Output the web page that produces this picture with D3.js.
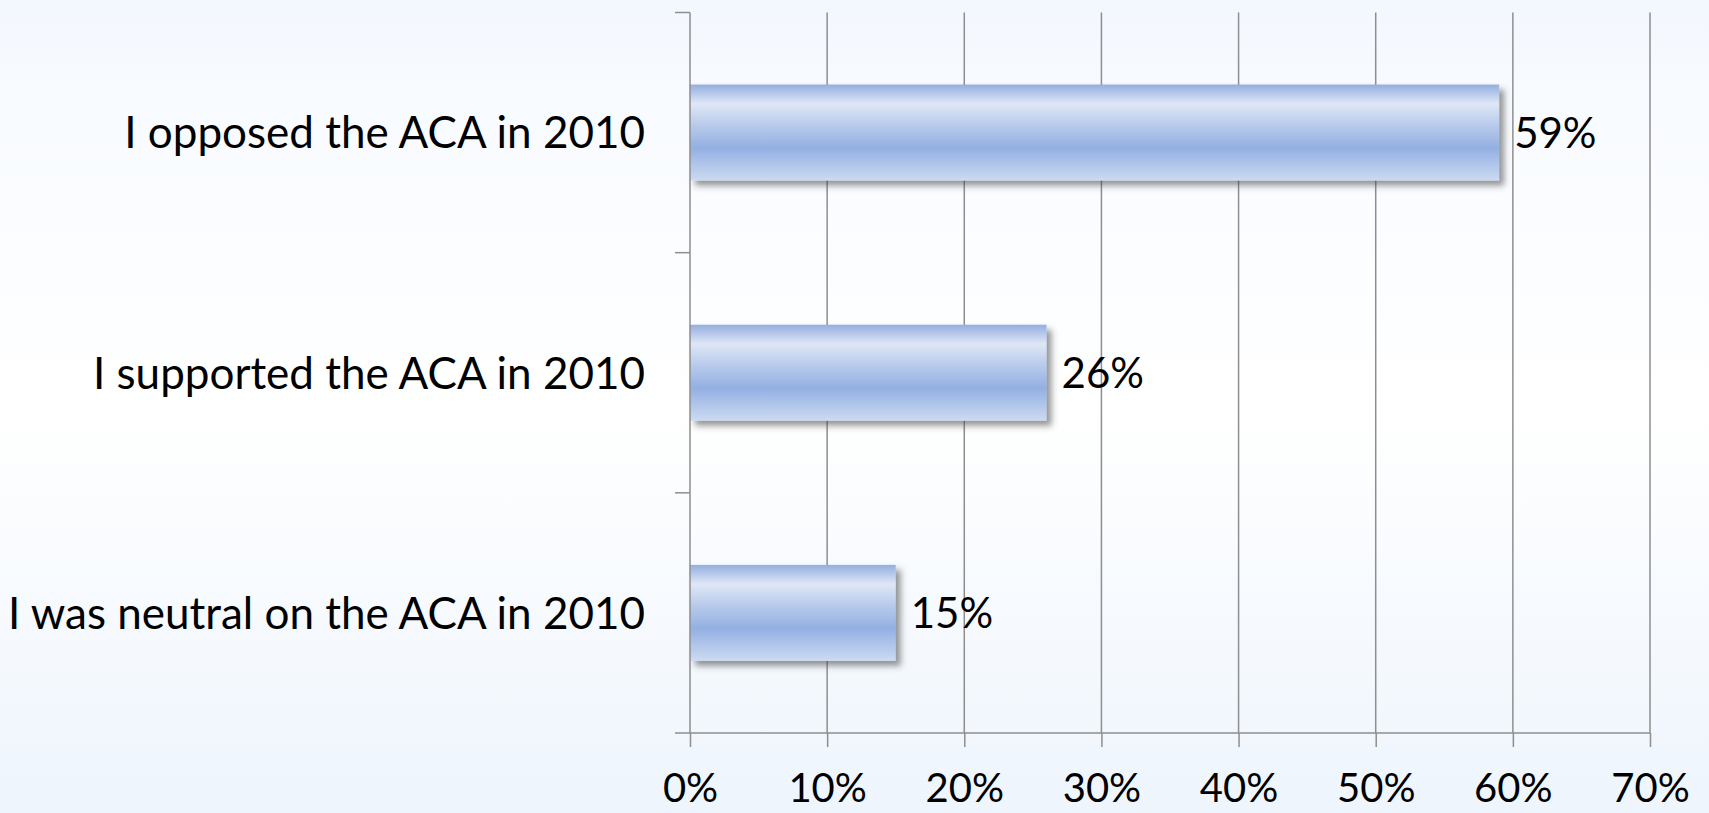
<!DOCTYPE html>
<html>
<head>
<meta charset="utf-8">
<script src="https://cdn.jsdelivr.net/npm/d3@7"></script>
<style>
  html, body { margin: 0; padding: 0; overflow: hidden; }
  body { width: 1709px; height: 813px; }
</style>
</head>
<body>
<div id="vis"></div>
<script>
var categories = ['I opposed the ACA in 2010', 'I supported the ACA in 2010', 'I was neutral on the ACA in 2010'];
var values = [59, 26, 15];
var xTicks = [0, 10, 20, 30, 40, 50, 60, 70];

var width = 1709, height = 813;
var margin = {top: 12.5, right: 59, bottom: 80, left: 690};

var data = categories.map((c, i) => ({cat: c, value: values[i]}));

var x = d3.scaleLinear()
    .domain([0, 70])
    .range([margin.left, width - margin.right]);

var y = d3.scaleBand()
    .domain(categories)
    .range([margin.top, height - margin.bottom])
    .paddingInner(0.6)
    .paddingOuter(0.3);

var svg = d3.select('#vis').append('svg')
    .attr('width', width)
    .attr('height', height)
    .style('font-family', 'Lato, sans-serif');

var defs = svg.append('defs');

var bg = defs.append('linearGradient')
    .attr('id', 'bg').attr('x1', 0).attr('y1', 0).attr('x2', 0).attr('y2', 1);
bg.append('stop').attr('offset', 0).attr('stop-color', '#f3f7fe');
bg.append('stop').attr('offset', 0.12).attr('stop-color', '#f8fbff');
bg.append('stop').attr('offset', 0.5).attr('stop-color', '#ffffff');
bg.append('stop').attr('offset', 1).attr('stop-color', '#eef5fd');

var bar = defs.append('linearGradient')
    .attr('id', 'bar').attr('x1', 0).attr('y1', 0).attr('x2', 0).attr('y2', 1);
bar.append('stop').attr('offset', 0).attr('stop-color', '#93aee0');
bar.append('stop').attr('offset', 0.2).attr('stop-color', '#dfe7f6');
bar.append('stop').attr('offset', 0.4).attr('stop-color', '#bccdec');
bar.append('stop').attr('offset', 0.66).attr('stop-color', '#93b0e2');
bar.append('stop').attr('offset', 1).attr('stop-color', '#cddaf1');

var shadow = defs.append('filter')
    .attr('id', 'shadow')
    .attr('x', '-5%').attr('y', '-20%').attr('width', '120%').attr('height', '160%');
shadow.append('feDropShadow')
    .attr('dx', 5).attr('dy', 5).attr('stdDeviation', 3)
    .attr('flood-color', '#404040').attr('flood-opacity', 0.55);

svg.append('rect')
    .attr('width', width).attr('height', height)
    .attr('fill', 'url(#bg)');

// vertical gridlines
svg.append('g')
    .selectAll('line')
    .data(xTicks.slice(1))
    .enter()
    .append('line')
        .attr('x1', d => x(d)).attr('x2', d => x(d))
        .attr('y1', margin.top).attr('y2', height - margin.bottom)
        .attr('stroke', '#8e8e8e').attr('stroke-width', 1.5);

// bars
svg.append('g')
    .selectAll('rect')
    .data(data)
    .enter()
    .append('rect')
        .attr('x', x(0))
        .attr('y', d => y(d.cat))
        .attr('width', d => x(d.value) - x(0))
        .attr('height', y.bandwidth())
        .attr('fill', 'url(#bar)')
        .attr('filter', 'url(#shadow)');

// value labels
svg.append('g')
    .selectAll('text')
    .data(data)
    .enter()
    .append('text')
        .attr('x', d => x(d.value) + 15)
        .attr('y', d => y(d.cat) + y.bandwidth() / 2)
        .attr('dy', '0.36em')
        .attr('font-size', 42)
        .attr('fill', '#000')
        .text(d => d.value + '%');

// x axis
var xAxis = svg.append('g')
    .attr('transform', 'translate(0,' + (height - margin.bottom) + ')')
    .call(d3.axisBottom(x).tickValues(xTicks).tickFormat(d => d + '%')
        .tickSize(14).tickPadding(27).tickSizeOuter(0));
xAxis.select('.domain').attr('stroke', '#8e8e8e').attr('stroke-width', 1.5)
    .attr('d', 'M' + (x(0) - 15) + ',0H' + x(70));
xAxis.selectAll('.tick line').attr('stroke', '#8e8e8e').attr('stroke-width', 1.5);
xAxis.selectAll('.tick text').attr('font-size', 40).attr('fill', '#000')
    .attr('font-family', 'Lato, sans-serif');

// y axis
var bandTicks = categories.map(c => y(c) - y.step() * y.paddingInner() / 2);
var yAxis = svg.append('g');
yAxis.append('line')
    .attr('x1', x(0)).attr('x2', x(0))
    .attr('y1', margin.top).attr('y2', height - margin.bottom)
    .attr('stroke', '#8e8e8e').attr('stroke-width', 1.5);
yAxis.selectAll('line.tk')
    .data(bandTicks)
    .enter()
    .append('line')
        .attr('class', 'tk')
        .attr('x1', x(0) - 15).attr('x2', x(0))
        .attr('y1', d => d).attr('y2', d => d)
        .attr('stroke', '#8e8e8e').attr('stroke-width', 1.5);
yAxis.selectAll('text')
    .data(categories)
    .enter()
    .append('text')
        .attr('x', x(0) - 45)
        .attr('y', d => y(d) + y.bandwidth() / 2)
        .attr('dy', '0.36em')
        .attr('text-anchor', 'end')
        .attr('font-size', 44)
        .attr('fill', '#000')
        .text(d => d);
</script>
</body>
</html>
